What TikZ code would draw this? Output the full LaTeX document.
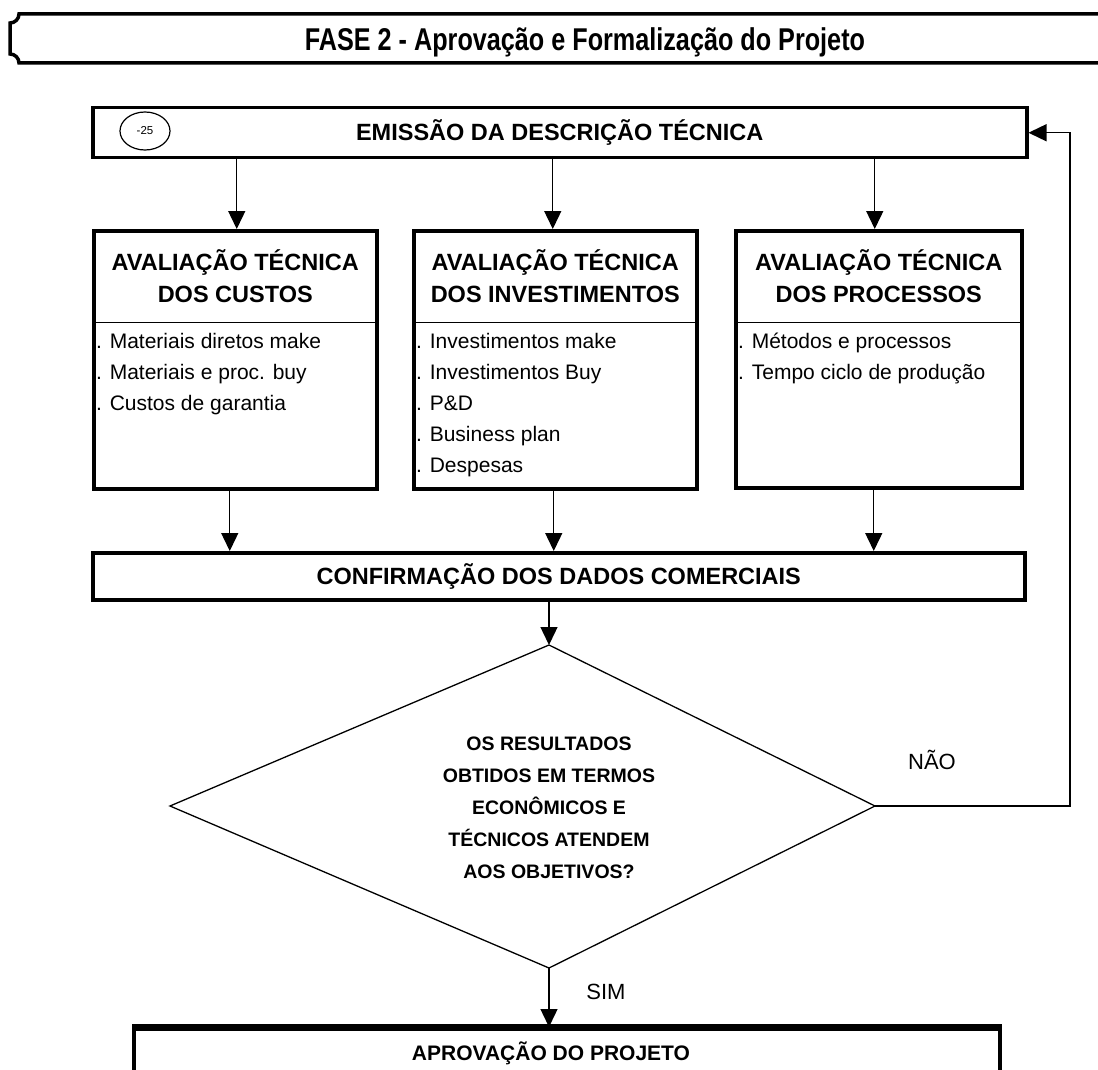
\documentclass[tikz,border=0pt]{standalone}
\usepackage{fontspec}
\setmainfont{Liberation Sans}
\newfontfamily\titlefont[FakeStretch=0.8]{Liberation Sans}
\usetikzlibrary{arrows.meta,calc,shapes.geometric}

\begin{document}
\begin{tikzpicture}[x=1pt,y=-1pt,
  frame/.style={draw, line width=3.5pt, inner sep=0, anchor=north west},
  arr/.style={line width=1.4pt, -{Triangle[length=18pt,width=17pt]}},
  hd/.style={font=\fontsize{23.5}{32}\selectfont\bfseries, align=center, inner sep=0},
  hdsmall/.style={font=\fontsize{19.5}{32}\selectfont\bfseries, align=center, inner sep=0},
  item/.style={font=\fontsize{21}{31}\selectfont, align=left, inner sep=0, anchor=north west},
  lbl/.style={font=\fontsize{22}{22}\selectfont, inner sep=0},
]
\useasboundingbox (0,0) rectangle (1098,1070);

% phase banner
\draw[line width=3.5pt] (1102,14) -- (19,14) arc[start angle=0,end angle=90,radius=9]
  -- (10,54) arc[start angle=-90,end angle=0,radius=9] -- (1102,63);
\node[font=\titlefont\fontsize{31.5}{31.5}\selectfont\bfseries, anchor=base, inner sep=0] (title)
  at (585,51) {FASE 2 - Aprovação e Formalização do Projeto};

% technical description
\node[frame, minimum width=934, minimum height=50] (top) at (91,106) {};
\node[hd] (toptxt) at (top.center) {EMISSÃO DA DESCRIÇÃO TÉCNICA};
\node[draw, ellipse, line width=1.2pt, minimum width=50, minimum height=38, inner sep=0,
  font=\fontsize{11.5}{11.5}\selectfont] (tag) at (145,131) {-25};

% three evaluation boxes
\node[frame, minimum width=283, minimum height=258] (b1) at (92,229) {};
\node[frame, minimum width=283, minimum height=258] (b2) at (412,229) {};
\node[frame, minimum width=286, minimum height=257] (b3) at (734,229) {};
\foreach \b in {b1,b2,b3}
  \draw[line width=1pt] ($(\b.north west)+(0,93)$) -- ($(\b.north east)+(0,93)$);

\node[hd] (h1) at ($(b1.north)+(0,47)$) {AVALIAÇÃO TÉCNICA\\DOS CUSTOS};
\node[hd] (h2) at ($(b2.north)+(0,47)$) {AVALIAÇÃO TÉCNICA\\DOS INVESTIMENTOS};
\node[hd] (h3) at ($(b3.north)+(0,47)$) {AVALIAÇÃO TÉCNICA\\DOS PROCESSOS};

\node[item] (l1) at ($(b1.north west)+(4,104)$)
  {. Materiais diretos make\\. Materiais e proc. buy\\. Custos de garantia};
\node[item] (l2) at ($(b2.north west)+(4,104)$)
  {. Investimentos make\\. Investimentos Buy\\. P\&D\\. Business plan\\. Despesas};
\node[item] (l3) at ($(b3.north west)+(4,104)$)
  {. Métodos e processos\\. Tempo ciclo de produção};

% commercial data
\node[frame, minimum width=932, minimum height=47] (conf) at (91,551) {};
\node[hd] (conftxt) at (conf.center) {CONFIRMAÇÃO DOS DADOS COMERCIAIS};

% decision
\coordinate (dt) at (549,645);
\coordinate (dl) at (170,806);
\coordinate (dr) at (875,806);
\coordinate (db) at (549,968);
\draw[line width=1.3pt, line join=miter] (dt) -- (dr) -- (db) -- (dl) -- cycle;
\node[hdsmall] (q) at (549,808)
  {OS RESULTADOS\\OBTIDOS EM TERMOS\\ECONÔMICOS E\\TÉCNICOS ATENDEM\\AOS OBJETIVOS?};

% approval
\node[draw, line width=3.5pt, inner sep=0, anchor=north west, minimum width=866, minimum height=90] (fin) at (132,1027) {};
\draw[line width=5.5pt] (fin.north west) -- (fin.north east);
\node[font=\fontsize{21}{21}\selectfont\bfseries, inner sep=0] (fintxt) at (551,1053) {APROVAÇÃO DO PROJETO};

% connectors
\coordinate (t1) at ([xshift=1.5pt]b1.north);
\coordinate (t2) at ([xshift=-2.5pt]b2.north);
\coordinate (t3) at ([xshift=-4pt]b3.north);
\foreach \t in {t1,t2,t3}
  \draw[arr] (\t |- top.south) -- (\t);

\coordinate (o1) at ([xshift=-5.5pt]b1.south);
\coordinate (o2) at ([xshift=-1.5pt]b2.south);
\coordinate (o3) at ([xshift=-5pt]b3.south);
\foreach \o in {o1,o2,o3}
  \draw[arr] (\o) -- (\o |- conf.north);

\draw[arr] (conf.south -| dt) -- (dt);
\draw[arr] (dr) -- ++(195,0) |- (top.east);
\draw[arr] (db) -- (db |- fin.north);

\node[lbl] (no) at (932,760) {NÃO};
\node[lbl] (yes) at (606,992) {SIM};
\end{tikzpicture}
\end{document}
